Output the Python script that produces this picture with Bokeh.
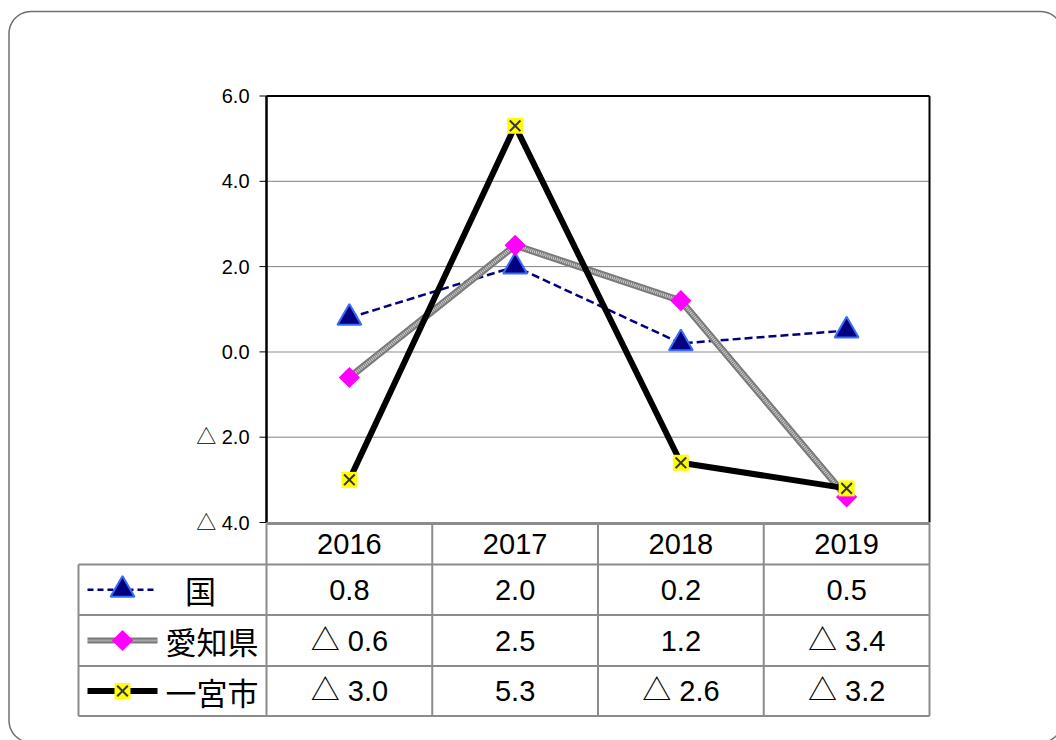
import math
from bokeh.plotting import figure
from bokeh.models import Range1d
from bokeh.core.properties import value
from bokeh.embed import file_html
from bokeh.resources import INLINE

# ---------------- data ----------------
years = ["2016", "2017", "2018", "2019"]
series_names = ["国", "愛知県", "一宮市"]
kuni = [0.8, 2.0, 0.2, 0.5]
aichi = [-0.6, 2.5, 1.2, -3.4]
ichinomiya = [-3.0, 5.3, -2.6, -3.2]
y_ticks = [-4, -2, 0, 2, 4, 6]
y_tick_labels = ["△ 4.0", "△ 2.0", "0.0", "2.0", "4.0", "6.0"]

# ---------------- layout (figure pixels) ----------------
W, H = 1056, 740
PL, PR, PT, PB = 266, 929, 95.5, 522          # chart plot area
YMIN, YMAX = -4, 6
n = len(years)
cat_px = (PR - PL) / n
x0 = -0.5 - PL / cat_px
x1 = x0 + W / cat_px
upx = (PB - PT) / (YMAX - YMIN)
y1 = YMAX + PT / upx
y0 = YMIN - (H - PB) / upx

TBL_TOP = 523
ROW_B = [564, 614.5, 665.5, 715.5]
LEG_L = 78

NUM_FONT = value("Liberation Sans, Noto Sans CJK JP")
CJK_FONT = value("Noto Sans CJK JP")

p = figure(width=W, height=H, x_range=Range1d(x0, x1), y_range=Range1d(y0, y1),
           output_backend="svg", toolbar_location=None, min_border=0,
           x_axis_location=None, y_axis_location=None, title=None)
p.grid.visible = False
p.outline_line_color = None
p.background_fill_color = "white"
p.border_fill_color = "white"
p.extra_x_ranges = {"px": Range1d(0, W)}
p.extra_y_ranges = {"px": Range1d(H, 0)}

# ---------------- rounded card ----------------
cl, ct, cr, cb, rr = 8.5, 11, 1062, 742, 22
cx, cy = [], []
def arc(xc, yc, a0, a1):
    for i in range(13):
        a = math.radians(a0 + (a1 - a0) * i / 12)
        cx.append(xc + rr * math.cos(a))
        cy.append(yc + rr * math.sin(a))
arc(cl + rr, ct + rr, 180, 270)
arc(cr - rr, ct + rr, 270, 360)
arc(cr - rr, cb - rr, 0, 90)
arc(cl + rr, cb - rr, 90, 180)
cx.append(cx[0]); cy.append(cy[0])
p.line(cx, cy, line_color="#6f6f6f", line_width=1.5, x_range_name="px", y_range_name="px")

# ---------------- grid lines ----------------
grid_vals = [t for t in y_ticks if YMIN < t < YMAX]
for t in grid_vals:
    if t == 0:
        p.segment(-0.5, t, n - 0.5, t, line_color="#8a8a8a", line_width=2, line_dash="1 1")
    else:
        p.segment(-0.5, t, n - 0.5, t, line_color="black", line_width=1, line_dash="1 1")

# plot area border
p.segment(-0.5, YMAX, n - 0.5, YMAX, line_color="black", line_width=2)
p.segment(n - 0.5, YMIN, n - 0.5, YMAX, line_color="black", line_width=2)
p.segment(-0.5, YMIN, -0.5, YMAX, line_color="black", line_width=2.5)

# y ticks
tick_len = 7 / cat_px
p.segment([-0.5 - tick_len] * len(y_ticks), y_ticks, [-0.5] * len(y_ticks), y_ticks,
          line_color="black", line_width=1)
p.text(x=[-0.5] * len(y_ticks), y=y_ticks, text=y_tick_labels, x_offset=-17,
       text_align="right", text_baseline="middle", text_font=NUM_FONT,
       text_font_size="20px", text_color="black")

# ---------------- series ----------------
xs = list(range(n))
# 国
p.line(xs, kuni, line_color="#000080", line_width=2.5, line_dash="8 4")
p.scatter(xs, kuni, marker="triangle", size=24, fill_color="#000080",
          line_color="#3a6cf5", line_width=2)
# 愛知県
p.line(xs, aichi, line_color="#7a7a7a", line_width=7)
p.line(xs, aichi, line_color="#d4d4d4", line_width=3, line_dash="1 1")
p.scatter(xs, aichi, marker="square", angle=math.pi / 4, size=15,
          fill_color="#ff00ff", line_color=None)
# 一宮市
p.line(xs, ichinomiya, line_color="black", line_width=6)
p.scatter(xs, ichinomiya, marker="square", size=16, fill_color="#ffff00", line_color=None)
p.scatter(xs, ichinomiya, marker="x", size=15, line_color="#333333", line_width=2)

# ---------------- data table ----------------
TC = "#8c8c8c"
p.segment(PL, TBL_TOP, PR, TBL_TOP, line_color=TC, line_width=3,
          x_range_name="px", y_range_name="px")
p.segment([LEG_L] * len(ROW_B), ROW_B, [PR] * len(ROW_B), ROW_B, line_color=TC,
          line_width=2, x_range_name="px", y_range_name="px")
p.segment([LEG_L, PL], [ROW_B[0], TBL_TOP], [LEG_L, PL], [ROW_B[-1]] * 2,
          line_color=TC, line_width=2, x_range_name="px", y_range_name="px")
col_b = [i + 0.5 for i in range(n)]
p.segment(col_b, [TBL_TOP] * n, col_b, [ROW_B[-1]] * n, line_color=TC, line_width=2,
          y_range_name="px")

hdr_y = (TBL_TOP + ROW_B[0]) / 2
p.text(x=xs, y=[hdr_y] * n, text=years, text_align="center", text_baseline="middle",
       text_font=NUM_FONT, text_font_size="29px", text_color="black", y_range_name="px")

def fmt(v):
    return f"△ {abs(v):.1f}" if v < 0 else f"{v:.1f}"

row_c = [(ROW_B[i] + ROW_B[i + 1]) / 2 for i in range(3)]
for vals, yc in zip([kuni, aichi, ichinomiya], row_c):
    p.text(x=xs, y=[yc] * n, text=[fmt(v) for v in vals], text_align="center",
           text_baseline="middle", text_font=NUM_FONT, text_font_size="29px",
           text_color="black", y_range_name="px")

# legend keys
kx0, kx1, kxm = 87, 157, 122
p.segment(kx0, row_c[0], kx1, row_c[0], line_color="#000080", line_width=2.5,
          line_dash="6 4", x_range_name="px", y_range_name="px")
p.scatter([kxm], [row_c[0]], marker="triangle", size=24, fill_color="#000080",
          line_color="#3a6cf5", line_width=2, x_range_name="px", y_range_name="px")
p.segment(kx0, row_c[1], kx1, row_c[1], line_color="#7a7a7a", line_width=6,
          x_range_name="px", y_range_name="px")
p.segment(kx0, row_c[1], kx1, row_c[1], line_color="#d4d4d4", line_width=2,
          line_dash="1 1", x_range_name="px", y_range_name="px")
p.scatter([kxm], [row_c[1]], marker="square", angle=math.pi / 4, size=15,
          fill_color="#ff00ff", line_color=None, x_range_name="px", y_range_name="px")
p.segment(kx0, row_c[2], kx1, row_c[2], line_color="black", line_width=6,
          x_range_name="px", y_range_name="px")
p.scatter([kxm], [row_c[2]], marker="square", size=16, fill_color="#ffff00",
          line_color=None, x_range_name="px", y_range_name="px")
p.scatter([kxm], [row_c[2]], marker="x", size=15, line_color="#333333", line_width=2,
          x_range_name="px", y_range_name="px")

# series names
name_x = [200, 258, 258]
name_align = ["center", "right", "right"]
for nm, xx, al, yc in zip(series_names, name_x, name_align, row_c):
    p.text(x=[xx], y=[yc], text=[nm], text_align=al, text_baseline="middle",
           text_font=CJK_FONT, text_font_size="31px", text_color="black",
           x_range_name="px", y_range_name="px")

open("out.html", "w").write(file_html(p, INLINE))
